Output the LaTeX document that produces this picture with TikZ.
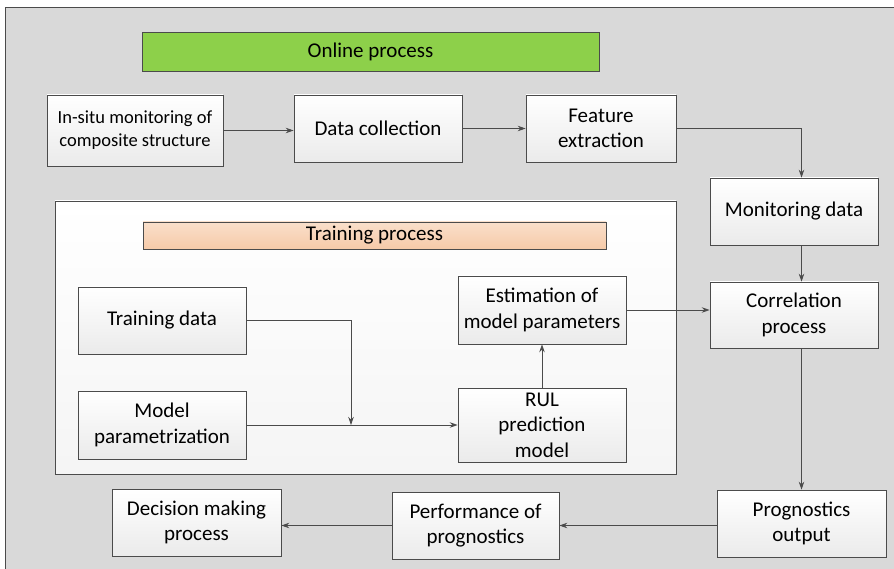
\documentclass[tikz,border=0pt]{standalone}
\usepackage{fontspec}
\setmainfont{Carlito}
\usepackage{tikz}
\usetikzlibrary{arrows.meta,positioning}

\definecolor{bggray}{RGB}{217,217,217}
\definecolor{linegray}{RGB}{75,75,75}
\definecolor{onlinegreen}{RGB}{141,208,74}
\definecolor{peach}{RGB}{246,202,168}

\begin{document}
\begin{tikzpicture}[x=1pt,y=-1pt,>={Stealth[length=8pt,width=5.5pt]},
    font=\fontsize{21}{25.5}\selectfont,
    box/.style={draw=linegray,line width=0.7pt,top color=white,bottom color=black!8,
      align=center,minimum width=168pt,minimum height=67pt,inner sep=1pt},
    banner/.style={draw=linegray,line width=0.7pt,inner sep=0pt},
    flow/.style={draw=linegray,line width=0.8pt,->}]
  \useasboundingbox (0,0) rectangle (894,569);
  \draw[fill=bggray,draw=linegray,line width=0.8pt] (5,7) rectangle (900,575);

  % online part
  \node[banner,fill=onlinegreen,minimum width=457pt,minimum height=39pt]
    (online) at (370.5,51.5) {Online process};
  \node[box,minimum width=176pt,minimum height=71pt,font=\fontsize{18.5}{23}\selectfont]
    (insitu) at (135,130.5) {In-situ monitoring of\\composite structure};
  \node[box] (datacol) at (378,128.5) {Data collection};
  \node[box,minimum width=150pt] (feature) at (601,128.5) {Feature\\extraction};
  \node[box] (monitor) at (794,211.5) {Monitoring data};
  \node[box,minimum height=66pt] (correl) at (794,315) {Correlation\\process};
  \node[box,minimum width=169pt] (progout) at (801.5,523.5) {Prognostics\\output};
  \node[box,minimum width=167pt] (perf) at (475.5,525.5) {Performance of\\prognostics};
  \node[box,minimum width=169pt] (decision) at (196.5,522.5) {Decision making\\process};

  % training part
  \node[draw=linegray,line width=0.7pt,top color=white,bottom color=black!4,
    minimum width=621pt,minimum height=273pt] (trainarea) at (365.5,337.5) {};
  \node[banner,top color=peach!60,bottom color=peach,minimum width=463pt,minimum height=27pt]
    (training) at (374.5,235.5) {Training process};
  \node[box] (traindata) at (162,320.5) {Training data};
  \node[box,minimum height=68pt] (modelpar) at (162,425) {Model\\parametrization};
  \node[box,minimum height=68pt] (estim) at (542,310) {Estimation of\\model parameters};
  \node[box,minimum height=74pt] (rul) at (542,425) {RUL\\prediction\\model};
  \coordinate (merge) at (351,425);

  % connectors
  \draw[flow] (insitu.east) -- (insitu.east -| datacol.west);
  \draw[flow] (datacol.east) -- (feature.west);
  \draw[flow] (feature.east) -| (monitor.north -| progout.north);
  \draw[flow] (monitor.south -| progout.north) -- (correl.north -| progout.north);
  \draw[flow] (correl.south -| progout.north) -- (progout.north);
  \draw[flow] (estim.east) -- (estim.east -| correl.west);
  \draw[flow] (rul.north) -- (estim.south);
  \draw[flow] (traindata.east) -| (merge);
  \draw[flow] (modelpar.east) -- (rul.west);
  \draw[flow] (progout.west |- perf.east) -- (perf.east);
  \draw[flow] (perf.west) -- (perf.west -| decision.east);
\end{tikzpicture}
\end{document}
